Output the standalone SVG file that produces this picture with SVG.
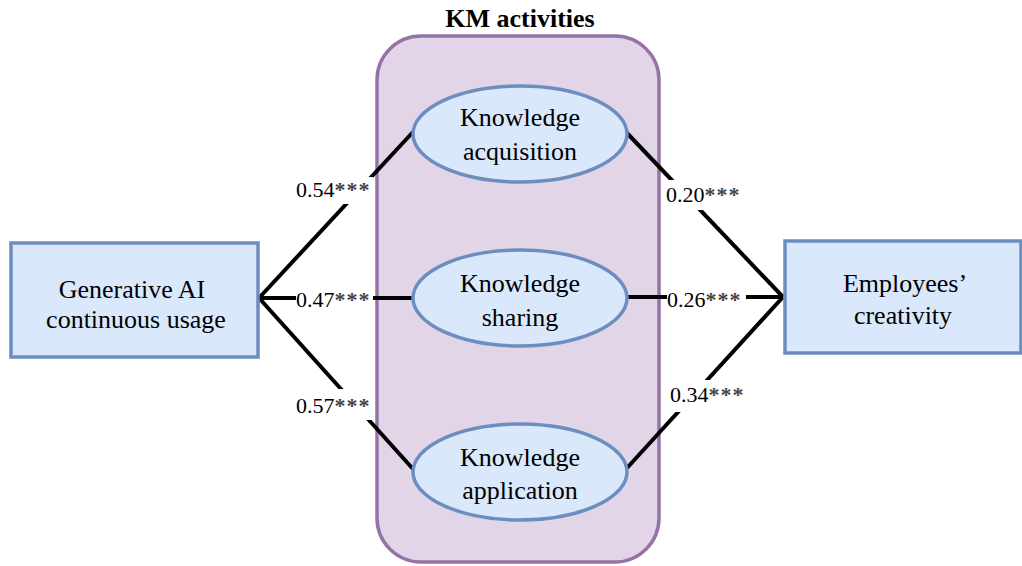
<svg xmlns="http://www.w3.org/2000/svg" width="1022" height="566" viewBox="0 0 1022 566">
<style>
.box{fill:#dae8fc;stroke:#6c8ebf;stroke-width:3.5}
.ell{fill:#dae8fc;stroke:#6c8ebf;stroke-width:3.5}
.grp{fill:#e1d5e7;stroke:#9673a6;stroke-width:3.5}
.t{font-family:"Liberation Serif","Times New Roman",serif;font-size:26px;fill:#000;text-anchor:middle}
.title{font-family:"Liberation Serif","Times New Roman",serif;font-size:26px;font-weight:bold;fill:#000;text-anchor:middle}
.lbl{font-family:"Liberation Serif","Times New Roman",serif;font-size:22px;fill:#000}
.st{letter-spacing:1px;fill:#444;font-weight:bold}
.ln{stroke:#000;stroke-width:4;fill:none}
.bg{fill:#fff}
</style>
<rect width="1022" height="566" fill="#fff"/>
<g id="km-group">
<rect class="grp" x="377" y="36" width="282" height="526" rx="44" ry="44"/>
<text class="title" x="520" y="27">KM activities</text>
</g>
<g id="connectors">
<line class="ln" x1="259" y1="298" x2="413" y2="132"/>
<line class="ln" x1="259" y1="298" x2="413" y2="298"/>
<line class="ln" x1="259" y1="298" x2="413" y2="469"/>
<line class="ln" x1="626" y1="132" x2="783" y2="297"/>
<line class="ln" x1="627" y1="297" x2="783" y2="297"/>
<line class="ln" x1="627" y1="468" x2="783" y2="297"/>
<rect class="bg" x="296" y="177" width="77" height="27"/>
<text class="lbl" x="296" y="197">0.54<tspan class="st">***</tspan></text>
<rect class="bg" x="296" y="288" width="77" height="20"/>
<text class="lbl" x="296" y="307">0.47<tspan class="st">***</tspan></text>
<rect class="bg" x="296" y="389" width="77" height="31"/>
<text class="lbl" x="296" y="413">0.57<tspan class="st">***</tspan></text>
<rect class="bg" x="666" y="180" width="79" height="30"/>
<text class="lbl" x="666" y="202">0.20<tspan class="st">***</tspan></text>
<rect class="bg" x="667" y="288" width="79" height="20"/>
<text class="lbl" x="667" y="307">0.26<tspan class="st">***</tspan></text>
<rect class="bg" x="670" y="380" width="79" height="32"/>
<text class="lbl" x="670" y="402">0.34<tspan class="st">***</tspan></text>
</g>
<g id="gen-ai">
<rect class="box" x="11" y="243" width="247" height="114"/>
<text class="t" x="132" y="298">Generative AI</text>
<text class="t" x="136" y="328">continuous usage</text>
</g>
<g id="creativity">
<rect class="box" x="785" y="241" width="236" height="112"/>
<text class="t" x="905" y="292">Employees’</text>
<text class="t" x="903" y="324">creativity</text>
</g>
<g id="acquisition">
<ellipse class="ell" cx="520" cy="134" rx="107" ry="48"/>
<text class="t" x="520" y="126">Knowledge</text>
<text class="t" x="520" y="160">acquisition</text>
</g>
<g id="sharing">
<ellipse class="ell" cx="520" cy="298" rx="107" ry="48"/>
<text class="t" x="520" y="292">Knowledge</text>
<text class="t" x="520" y="326">sharing</text>
</g>
<g id="application">
<ellipse class="ell" cx="520" cy="472" rx="107" ry="48"/>
<text class="t" x="520" y="466">Knowledge</text>
<text class="t" x="520" y="499">application</text>
</g>
</svg>
